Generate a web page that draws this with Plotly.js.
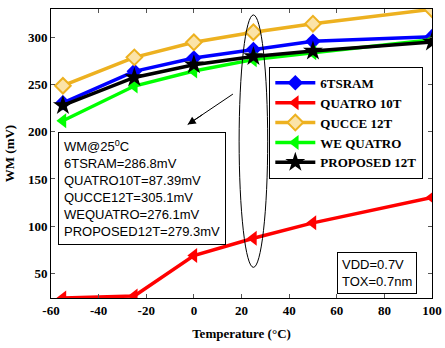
<!DOCTYPE html>
<html><head><meta charset="utf-8">
<script src="https://cdn.plot.ly/plotly-3.0.1.min.js"></script>
<style>html,body{margin:0;padding:0;background:#fff}#chart{width:445px;height:348px}</style>
</head><body><div id="chart"></div>
<script>
const temps = [-55, -25, 0, 25, 50, 100];
const sram6T = [230.5, 263.7, 277.8, 286.8, 295.4, 300.4];
const quatro10T = [24.3, 26.4, 69.0, 87.39, 103.6, 130.4];
const qucce12T = [248.5, 278.5, 294.4, 305.1, 314.1, 329.3];
const weQuatro = [211.5, 248.2, 264.0, 276.1, 283.4, 297.2];
const proposed12T = [227.7, 257.3, 270.7, 279.3, 285.2, 294.7];
const names = ['6TSRAM', 'QUATRO 10T', 'QUCCE 12T', 'WE QUATRO', 'PROPOSED 12T'];
const xTicks = [-60, -40, -20, 0, 20, 40, 60, 80, 100];
const yTicks = [50, 100, 150, 200, 250, 300];
const noteLines = ['WM@25<sup>0</sup>C', '6TSRAM=286.8mV', 'QUATRO10T=87.39mV', 'QUCCE12T=305.1mV', 'WEQUATRO=276.1mV', 'PROPOSED12T=279.3mV'];
const condLines = ['VDD=0.7V', 'TOX=0.7nm'];

const lw = 3.5;
const traces = [
  {x: temps, y: sram6T, name: names[0], line: {color: '#0000FF', width: lw},
   marker: {symbol: 'diamond', size: 12, color: '#0000FF'}},
  {x: temps, y: quatro10T, name: names[1], line: {color: '#FF0000', width: lw},
   marker: {symbol: 'triangle-left', size: 13, color: '#FF0000'}},
  {x: temps, y: qucce12T, name: names[2], line: {color: '#EDB120', width: lw},
   marker: {symbol: 'diamond', size: 12, color: '#FBE3A8', line: {color: '#EDB120', width: 2}}},
  {x: temps, y: weQuatro, name: names[3], line: {color: '#00FF00', width: lw},
   marker: {symbol: 'triangle-left', size: 13, color: '#00FF00'}},
  {x: temps, y: proposed12T, name: names[4], line: {color: '#000000', width: lw},
   marker: {symbol: 'star', size: 15, color: '#000000'}}
].map(t => Object.assign({type: 'scatter', mode: 'lines+markers'}, t));

const serifBold = {family: 'Liberation Serif, Times New Roman, serif', size: 13, color: '#000', weight: 'bold'};
const sans = {family: 'Liberation Sans, Arial, sans-serif', size: 13, color: '#000'};

const arrowTail = [16.4, 239.7];
const arrowTip = [-2.6, 207.5];

const layout = {
  width: 445, height: 348,
  margin: {l: 51, r: 13, t: 9, b: 50},
  paper_bgcolor: '#fff', plot_bgcolor: '#fff',
  showlegend: true,
  legend: {x: 0.573, y: 0.80, xanchor: 'left', yanchor: 'top',
    bgcolor: '#fff', bordercolor: '#000', borderwidth: 1,
    font: serifBold, itemwidth: 40, tracegroupgap: 0},
  xaxis: {range: [-60, 100], tickvals: xTicks, ticktext: xTicks.map(String),
    ticks: 'inside', ticklen: 4, tickcolor: '#555', showgrid: false, zeroline: false,
    showline: true, linecolor: '#000', linewidth: 1, mirror: 'ticks',
    tickfont: serifBold,
    title: {text: 'Temperature (°C)', font: serifBold, standoff: 12}},
  yaxis: {range: [24.2, 329.6], tickvals: yTicks, ticktext: yTicks.map(String),
    ticks: 'inside', ticklen: 4, tickcolor: '#555', showgrid: false, zeroline: false,
    showline: true, linecolor: '#000', linewidth: 1, mirror: 'ticks',
    tickfont: serifBold,
    title: {text: 'WM (mV)', font: serifBold, standoff: 10}},
  shapes: [
    {type: 'circle', xref: 'x', yref: 'y', x0: 19, x1: 31, y0: 56.6, y1: 323.3,
     line: {color: '#000', width: 1}},
    {type: 'line', xref: 'x', yref: 'y', x0: arrowTail[0], y0: arrowTail[1], x1: arrowTip[0], y1: arrowTip[1],
     line: {color: '#000', width: 1}}
  ],
  annotations: [
    {xref: 'x', yref: 'y', x: arrowTip[0], y: arrowTip[1], ax: 15, ay: -10,
     text: '', font: {size: 1}, borderpad: 0, showarrow: true,
     arrowhead: 2, arrowsize: 1.6, arrowwidth: 1, arrowcolor: '#000'},
    {xref: 'paper', yref: 'paper', x: (58 - 50.7) / 381, y: (297.7 - 132) / 288.7,
     xanchor: 'left', yanchor: 'top', align: 'left', showarrow: false,
     text: noteLines.join('<br>'), font: sans,
     bgcolor: '#fff', bordercolor: '#000', borderwidth: 1, borderpad: 5},
    {xref: 'paper', yref: 'paper', x: (337 - 50.7) / 381, y: (297.7 - 252) / 288.7,
     xanchor: 'left', yanchor: 'top', align: 'left', showarrow: false,
     text: condLines.join('<br>'), font: sans,
     bgcolor: '#fff', bordercolor: '#000', borderwidth: 1, borderpad: 4}
  ]
};

Plotly.newPlot('chart', traces, layout, {displayModeBar: false, staticPlot: true});
</script>
</body></html>
